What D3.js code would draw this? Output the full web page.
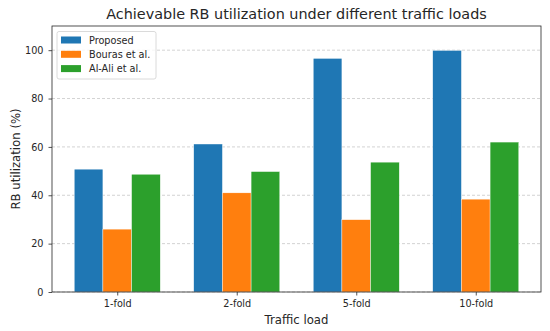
<!DOCTYPE html>
<html><head><meta charset="utf-8">
<script src="https://cdn.jsdelivr.net/npm/d3@7"></script>
<style>body{margin:0;background:#fff}svg{display:block;font-family:"DejaVu Sans",sans-serif}</style>
</head><body><svg id="c" width="550" height="331"></svg>
<script>
const categories = ["1-fold","2-fold","5-fold","10-fold"];
const seriesNames = ["Proposed","Bouras et al.","Al-Ali et al."];
const proposed = [50.8, 61.2, 96.6, 99.9];
const bouras = [26.0, 41.0, 29.9, 38.4];
const alali = [48.7, 49.8, 53.7, 62.0];
const yTicks = [0,20,40,60,80,100];
const colors = ["#1f77b4","#ff7f0e","#2ca02c"];
const series = [proposed, bouras, alali];

const svg = d3.select("#c");
const L=52, R=541, T=26, B=292;
const w = 0.24;
const x = d3.scaleLinear().domain([-1.65*w-0.15, 3+1.65*w+0.15]).range([L,R]);
const y = d3.scaleLinear().domain([0,110]).range([B,T]);

// grid
svg.append("g").selectAll("line").data(yTicks).join("line")
  .attr("x1",L).attr("x2",R).attr("y1",d=>y(d)).attr("y2",d=>y(d))
  .attr("stroke","#b0b0b0").attr("stroke-opacity",0.7).attr("stroke-width",0.8)
  .attr("stroke-dasharray","3,2");

// bars
series.forEach((s,si)=>{
  svg.append("g").selectAll("rect").data(s).join("rect")
    .attr("x",(d,i)=>x(i+(si-1)*w - w/2))
    .attr("width",x(w)-x(0))
    .attr("y",d=>y(d)).attr("height",d=>y(0)-y(d))
    .attr("fill",colors[si]).attr("stroke","#fff").attr("stroke-width",0.4);
});

// axes
const ya = svg.append("g").attr("transform",`translate(${L},0)`)
  .call(d3.axisLeft(y).tickValues(yTicks).tickSize(3.5).tickPadding(5));
const xa = svg.append("g").attr("transform",`translate(0,${B})`)
  .call(d3.axisBottom(x).tickValues([0,1,2,3]).tickFormat(i=>categories[i]).tickSize(3.5).tickPadding(5));
[ya,xa].forEach(a=>{a.select(".domain").remove();a.selectAll("text").attr("font-size",9.7).attr("fill","#262626").attr("font-family","DejaVu Sans");a.selectAll("line").attr("stroke","#262626").attr("stroke-width",0.8);});

// frame
svg.append("rect").attr("x",L).attr("y",T).attr("width",R-L).attr("height",B-T)
  .attr("fill","none").attr("stroke","#262626").attr("stroke-width",0.8);

// title & labels
svg.append("text").attr("x",(L+R)/2).attr("y",19).attr("text-anchor","middle")
  .attr("font-size",14.4).attr("fill","#262626").text("Achievable RB utilization under different traffic loads");
svg.append("text").attr("x",(L+R)/2).attr("y",324).attr("text-anchor","middle")
  .attr("font-size",11.7).attr("fill","#262626").text("Traffic load");
svg.append("text").attr("transform",`translate(20,${(T+B)/2}) rotate(-90)`).attr("text-anchor","middle")
  .attr("font-size",11.7).attr("fill","#262626").text("RB utilization (%)");

// legend
const lg = svg.append("g");
lg.append("rect").attr("x",57).attr("y",31.5).attr("width",99).attr("height",47.5).attr("rx",2)
  .attr("fill","#fff").attr("fill-opacity",0.8).attr("stroke","#d0d0d0").attr("stroke-width",0.8);
seriesNames.forEach((n,i)=>{
  lg.append("rect").attr("x",61).attr("y",36.5+i*14.3).attr("width",20).attr("height",7).attr("fill",colors[i]);
  lg.append("text").attr("x",89).attr("y",43.5+i*14.3).attr("font-size",9.7).attr("fill","#262626").text(n);
});
</script></body></html>
